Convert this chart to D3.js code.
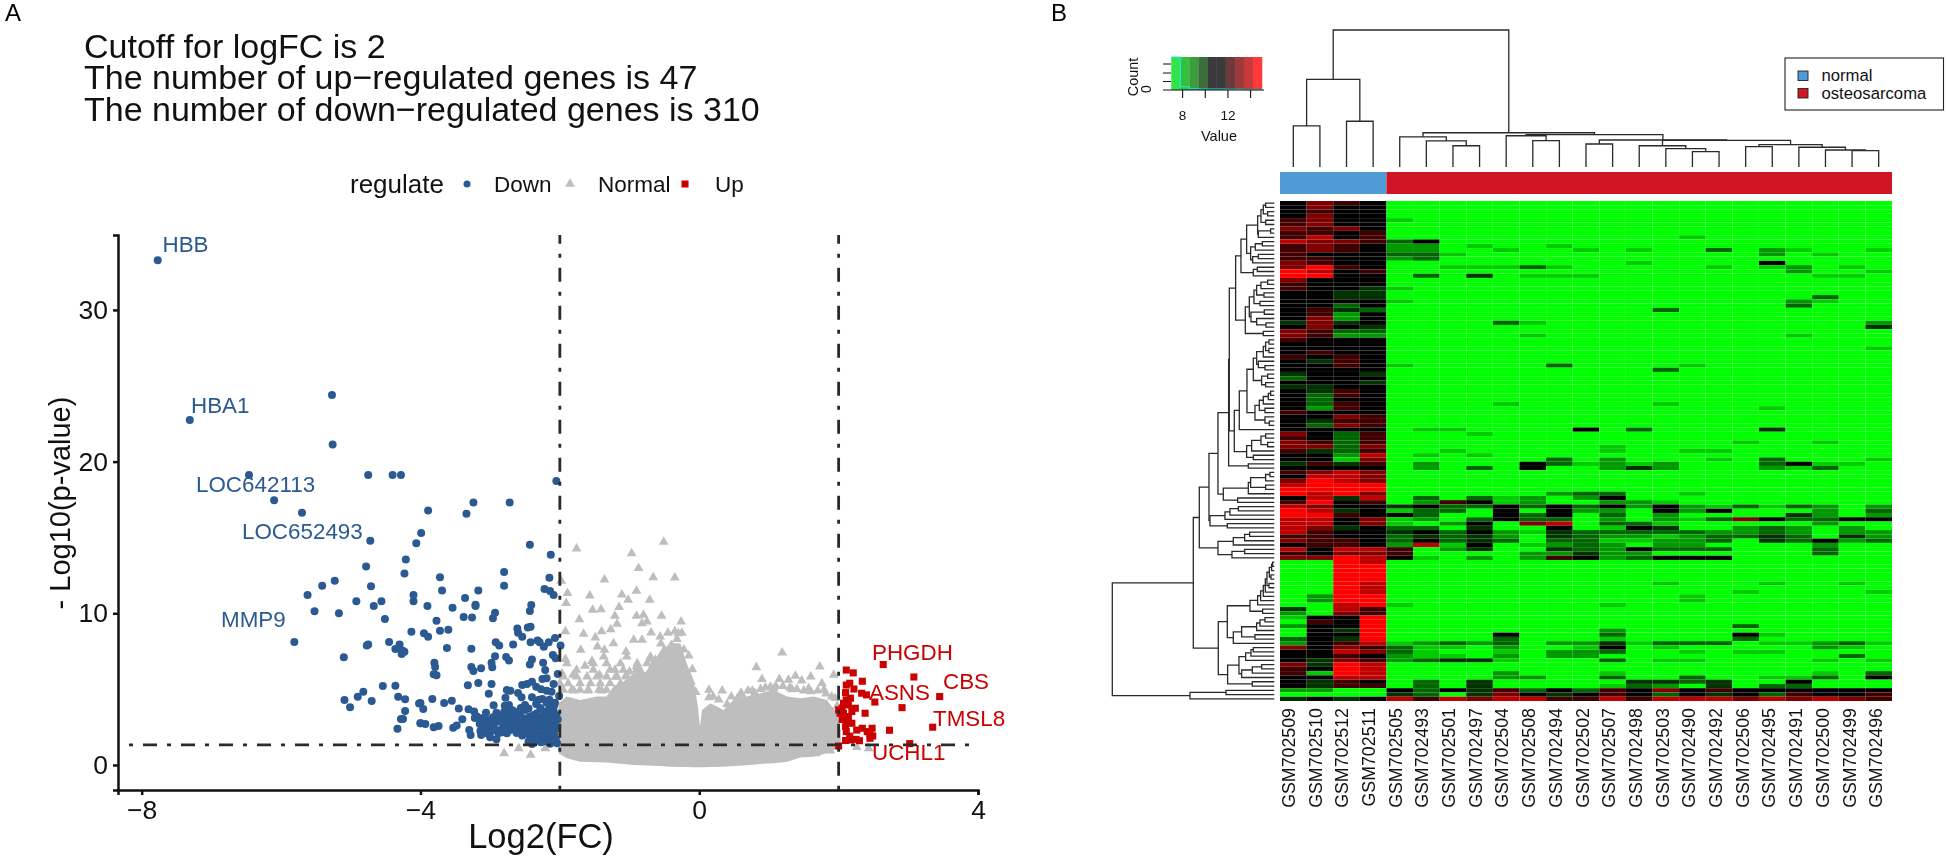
<!DOCTYPE html>
<html><head><meta charset="utf-8">
<script src="https://cdn.jsdelivr.net/npm/d3@7/dist/d3.min.js"></script>
<style>
html,body{margin:0;padding:0;background:#fff}
svg{display:block;filter:blur(0.45px)}
text{font-family:"Liberation Sans",Arial,sans-serif}
</style></head><body><svg id="c" width="1946" height="860"></svg>
<script>
// ---------- Panel A data ----------
const titleLines = ["Cutoff for logFC is 2","The number of up\u2212regulated genes is 47","The number of down\u2212regulated genes is 310"];
const xTicks = [-8,-4,0,4];
const yTicks = [0,10,20,30];
const logFCcut = 2, pCut = 1.32;
const downPoints = [[-7.77,33.28],[-7.31,22.74],[-5.27,24.39],[-5.26,21.13],[-6.46,19.11],[-4.75,19.11],[-4.40,19.11],[-4.28,19.11],[-2.05,18.72],[-6.10,17.46],[-5.70,16.63],[-3.89,16.78],[-3.34,16.56],[-3.24,17.31],[-2.72,17.31],[-4.72,14.78],[-3.99,15.29],[-4.06,14.61],[-4.21,13.55],[-2.43,14.52],[-2.13,13.86],[-4.78,13.09],[-4.23,12.63],[-3.72,12.37],[-2.80,12.72],[-2.15,12.34],[-5.23,12.15],
[-5.41,11.82],[-5.62,11.21],[-4.71,11.78],[-4.92,10.79],[-4.56,10.79],[-4.67,10.48],[-5.52,10.13],[-5.17,10.0],[-4.51,9.62],[-4.10,11.21],[-4.10,10.79],[-4.13,8.79],[-5.81,8.11],[-4.75,7.95],[-4.77,7.87],[-4.45,8.11],[-4.30,7.95],[-4.36,7.65],[-4.26,7.54],[-4.23,7.47],[-4.27,7.32],[-5.10,7.10],[-4.54,5.21],[-4.36,5.23],[-4.82,4.83],[-4.90,4.50],[-5.09,4.28],[-5.01,3.80],[-4.70,4.22],[-4.32,4.50],[-4.22,4.33],[-4.02,4.06],[-4.22,3.56],[-4.28,3.03],[-4.25,3.03],[-4.33,2.39],[-4.0,2.75],
[-2.80,11.82],[-3.69,11.51],[-3.17,11.51],[-3.36,11.01],[-2.22,11.6],[-2.14,11.47],[-2.09,11.2],[-3.21,10.57],[-3.21,10.48],[-3.90,10.48],[-3.54,10.37],[-2.41,10.55],[-2.43,10.15],[-2.93,10.04],[-2.96,9.67],[-3.38,9.75],[-3.26,9.73],[-3.77,9.51],[-3.60,8.92],[-3.72,8.85],[-3.95,8.68],[-3.89,8.46],[-2.61,8.99],[-2.60,8.72],[-2.54,8.46],[-2.46,9.07],[-2.42,9.12],[-2.07,8.37],[-2.42,8.09],[-2.32,8.2],[-2.29,8.09],[-2.16,8.09],[-2.23,7.8],[-2.92,8.09],[-2.87,7.87],[-2.67,7.95],[-3.62,7.71],[-3.27,7.67],[-1.99,7.87],[-2.10,7.25],[-2.06,7.03],[-2.93,7.16],[-2.77,7.12],[-2.73,6.88],[-2.40,6.96],[-2.43,6.63],[-2.98,6.74],[-2.97,6.44],[-2.24,6.74],[-2.21,6.26],[-3.80,6.74],[-3.79,6.46],[-3.81,5.98],[-3.77,5.91],[-3.27,6.46],[-3.24,6.2],[-3.13,6.37],[-2.03,6.0],[-3.17,5.4],[-3.32,5.25],[-2.98,5.34],[-3.02,4.70],[-2.76,4.94],[-2.71,4.9],[-2.78,4.44],[-2.54,5.27],[-2.47,5.34],[-2.40,5.49],[-2.34,5.16],[-2.25,5.67],[-2.19,5.71],[-2.27,4.99],[-2.09,5.34],[-2.19,4.9],[-2.12,4.83],[-2.60,4.75],[-2.55,4.46],[-2.40,4.46],[-2.01,4.55],
[-4.0,4.09],[-3.96,3.69],[-3.83,4.35],[-3.66,4.09],[-3.55,4.24],[-3.45,3.73],[-4.0,2.75],[-3.93,2.70],[-3.81,2.48],[-3.74,2.57],[-3.53,2.46],[-3.48,2.61],[-3.40,3.01],[-3.30,2.31],[-3.28,1.98],[-3.14,2.24],[-3.13,1.98],
[-3.31,3.67],[-3.23,3.52],[-3.19,3.19],[-3.12,3.08],[-3.06,3.45],[-3.04,2.97],[-2.95,3.93],[-2.91,3.45],[-2.98,2.75],[-2.90,2.85],[-2.86,2.31],[-3.0,1.82],[-2.91,1.69],[-2.88,2.09],[-2.75,3.73],[-2.71,3.51],[-2.76,3.19],[-2.67,3.4],[-2.59,3.51],[-2.50,3.62],[-2.45,3.73],[-2.71,2.64],[-2.62,2.97],[-2.55,2.53],[-2.47,3.08],[-2.34,4.02],[-2.33,3.41],[-2.19,4.11],[-2.21,3.52],[-2.18,3.29],[-2.09,3.62],[-2.05,3.29],[-2.43,2.75],[-2.33,2.85],[-2.26,2.53],[-2.14,2.75],[-2.07,2.85],[-2.50,2.09],[-2.40,2.31],[-2.31,2.09],[-2.21,2.2],[-2.12,2.09],[-2.04,2.42],[-2.45,1.54],[-2.38,1.76],[-2.19,1.54],[-2.09,1.76],[-2.04,1.43],[-2.40,1.38],[-2.71,2.31],[-2.64,2.64],[-2.81,2.53],[-2.59,2.19],[-2.76,2.09],[-2.47,2.42],[-2.35,2.31],[-2.26,1.87],[-2.14,1.65],[-2.16,2.31],[-2.43,3.19],[-2.71,2.97],[-2.81,2.97],[-3.10,2.53],[-3.02,2.42],[-2.95,2.53],
[-2.80,3.5],[-2.68,3.6],[-2.62,3.3],[-2.56,3.2],[-2.52,2.9],[-2.78,2.75],[-2.66,2.8],[-2.58,2.75],[-2.5,2.6],[-2.44,2.5],[-2.38,2.6],[-2.30,2.6],[-2.24,2.9],[-2.18,2.95],[-2.12,3.0],[-2.09,2.5],[-2.17,2.55],[-2.34,3.05],[-2.39,3.0],[-2.28,3.2],[-2.22,3.05],[-2.13,3.45],[-2.08,3.95],[-2.15,3.9],[-2.28,3.75],[-2.25,4.35],[-2.3,4.3],[-2.15,4.3],[-2.07,4.1],[-2.36,2.05],[-2.44,2.0],[-2.28,1.9],[-2.22,1.8],[-2.17,1.9],[-2.08,2.0],[-2.06,1.7],[-2.33,1.6],[-2.27,1.5],[-2.14,1.4],[-2.56,2.3],[-2.66,2.45],[-2.62,2.1],[-2.54,1.95],[-2.83,2.15],[-3.03,2.7],[-3.1,2.9],[-2.85,3.2],[-2.96,3.15],[-3.22,3.1],[-3.15,2.7],[-3.06,2.1],[-2.97,2.25],[-2.79,3.9],[-2.73,3.95],[-2.5,3.95],[-2.56,3.75],[-2.38,3.3],[-2.22,3.3],[-2.1,3.15],[-2.03,3.0]];
const upPoints = [[2.11,6.26],[2.21,6.07],[2.64,6.62],[3.08,5.80],[2.34,5.52],[2.16,5.39],[2.11,5.27],[2.22,5.01],[2.10,4.77],[2.33,4.73],[2.40,4.62],[3.45,4.51],[2.52,4.15],[2.91,3.78],[2.11,4.29],[2.14,3.96],[2.05,3.74],[2.24,3.74],[2.19,3.52],[2.02,3.41],[2.07,3.41],[2.38,3.41],[2.19,2.75],[2.12,2.75],[2.10,2.53],[3.35,2.49],[2.73,2.29],[2.11,2.2],[2.34,2.42],[2.48,2.42],[2.41,2.2],[2.45,1.98],[2.49,1.91],[2.45,1.76],[2.25,1.69],[2.17,1.65],[2.10,1.61],[3.02,1.41],[2.0,1.25],[2.0,3.63],[2.07,4.07],[2.17,4.4],[2.14,3.19],[2.26,2.3],[2.05,3.0],[2.16,1.9],[2.3,1.6]];
const normalPoints = [[-.51,14.70],[-1.76,14.26],[-.97,13.95],[-.87,12.97],[-.66,12.37],[-.35,12.35],[-1.36,12.22],[-1.98,12.13],[-.90,11.47],[-1.11,11.23],[-1.89,11.32],[-1.57,11.16],[-1.02,10.88],[-.71,10.88],[-1.91,10.66],[-1.15,10.40],[-1.53,10.22],[-1.41,10.26],[-1.21,9.82],[-.90,9.82],[-.80,9.89],[-.54,9.82],[-1.72,9.60],[-.26,9.45],[-1.18,9.30],[-.82,9.34],[-.75,9.45],[-1.92,8.81],[-1.40,8.81],[-1.27,8.94],[-1.66,8.64],[-.30,8.68],[-.69,8.72],[-1.49,8.40],[-1.23,8.02],[-.94,8.24],[-.82,8.24],[-.56,8.46],[-1.46,7.80],[-1.70,7.58],[-1.36,7.58],[-1.05,7.47],[-1.92,6.97],[-1.37,7.14],[-1.64,6.53],[-1.54,6.84],[-1.21,6.26],[-1.97,6.04],[-1.43,5.93],[-1.81,5.93],[-1.0,6.15],[-.9,6.26],[-.75,6.70],[-.63,6.92],[1.19,7.41],[.82,6.44],[1.73,6.48],[1.93,5.93],[.9,5.65],[1.38,5.87],[1.60,5.82],[1.15,5.65],[1.28,5.61],[1.47,5.56],[1.76,5.38],[.14,4.95],[.33,4.9],[.14,4.46],[1.07,5.05],[1.33,4.99],[1.57,5.05],[1.79,4.95],[.8,4.73],[.61,4.62],[-2.8,.77],[-2.59,1.1],[-2.42,.66],[-2.21,1.1],[2.26,1.17],[2.43,1.1],[1.88,.95],[1.67,.77],
[-1.8,4.9],[-1.6,4.9],[-1.4,4.9],[-1.2,5.8],[-1.05,5.9],[-.9,6.5],[-.7,7],[-.55,8],[-.45,8.7],[-.35,8.8],[-.25,8.7],[-.15,7.2],[-.1,6.3],[.2,4.5],[.4,4],[.55,4.4],[.7,4.9],[.95,5.1],[1.2,5.2],[1.4,5],[1.7,4.9],[1.95,4.4],
[-1.04,7.14],[-.7,7.14],[-.56,7.14],[-.46,7.14],[-1.9,6.7],[-1.52,6.7],[-1.33,6.7],[-1.13,6.7],[-.89,6.7],[-.65,6.7],[-1.76,6.26],[-1.52,6.26],[-1.28,6.26],[-1.09,6.26],[-.85,6.26],[-.7,6.26],[-1.95,5.82],[-1.76,5.82],[-1.61,5.82],[-1.47,5.82],[-1.33,5.82],[-1.18,5.82],[-1.04,5.82],[-.89,5.82],[-.75,5.82],[-2,5.38],[-1.88,5.38],[-1.71,5.38],[-1.56,5.38],[-1.42,5.38],[-1.28,5.38],[-1.13,5.38],[-1.95,4.95],[-1.83,4.95],[-1.71,4.95],[-1.59,4.95],[-1.44,4.95],[-1.33,4.95],[-1.21,4.95],
[.28,4.3],[.46,4.5],[.6,4.75],[.76,4.9],[.88,5],[1.02,5.15],[1.1,5.2],[1.3,5.1],[1.5,4.9],[1.6,4.85],[1.82,4.7],[1.9,4.5],[1.98,3.9],[-.32,8.3],[-.4,7.9],[-.22,7.6],[-.5,7.6],[-.12,5.5],[-.05,4.8]];
// envelope of the solid grey mass of overlapping "Normal" genes
const massX = [-2.02,-1.90,-1.71,-1.47,-1.33,-1.23,-1.09,-.94,-.75,-.56,-.42,-.27,-.18,-.08,-.02,.01,.04,.16,.35,.49,.68,.88,1.07,1.26,1.45,1.64,1.83,1.98,2.03];
const massTop = [4.07,4.51,4.29,4.51,4.51,5.17,5.49,6.04,6.15,7.36,8.02,8.02,6.70,5.60,3.85,2.53,3.63,4.07,3.63,4.29,4.51,4.73,4.95,4.51,4.40,4.51,4.29,3.41,2.31];
const massBottom = [.77,.44,.22,.18,.16,.11,.07,0,-.04,-.06,-.11,-.13,-.13,-.15,-.15,-.15,-.15,-.13,-.11,-.06,-.02,.07,.11,.22,.5,.55,.77,1.1,1.43];
const legendLabels = ["Down","Normal","Up"];
const blueLabels = ["HBB","HBA1","LOC642113","LOC652493","MMP9"];
const redLabels = ["PHGDH","CBS","ASNS","TMSL8","UCHL1"];
// ---------- Panel B data ----------
const samples = ["GSM702509","GSM702510","GSM702512","GSM702511","GSM702505","GSM702493","GSM702501","GSM702497","GSM702504","GSM702508","GSM702494","GSM702502","GSM702507","GSM702498","GSM702503","GSM702490","GSM702492","GSM702506","GSM702495","GSM702491","GSM702500","GSM702499","GSM702496"];
const groups = ["normal","osteosarcoma"];
const groupSizes = [4,19];
// level per row for the four normal samples (0 green .. 5 black .. 9 red)
const normalCells = ["5765","5755","5655","5755","6755","6755","7675","6656","6856","8776","6765","6765","6555","6655","7655","7965","9856","9955","7555","6555","6554","5544","5544","5555","5535","5643","5625","5725","4745","5754","7633","7622","6555","5555","5555","5655","6565","5465","5565","5555","4554","3555","5554","4455","5465","5365","5355","5365","5265","6555","5576","5466","5376","5555","7536","6536","7636","7737","6436","5528","5517","4646","5555","6787","5887","7987","8999","9999","9897","5848","6956","8755","9845","9965","8857","8857","8745","8655","6655","7665","5665","8588","6577","7798","0098","0099","0099","0099","0099","0098","0098","0098","0299","0299","0089","4086","2076","1559","0659","2559","0549","0559","3549","2568","7576","5587","5565","5476","7498","6598","6198","5588","5465","5466","2200","0000","4545"];
// tumour samples are almost all bright green: [row, col, level, col, level, ...]
const tumourCells = [[4,4,1],[8,15,1],[9,4,3,5,5],[10,4,2,5,2,7,1,10,1],[11,4,2,5,2,8,1,11,1,13,1,16,3,18,2,19,1,22,1],[12,4,3,5,3,6,1,18,2,20,1],[13,4,2,5,3],[14,13,1,18,5],[15,6,1,7,1,8,1,9,3,10,1,16,1,18,1,19,2,21,1],[16,19,2,22,1],[17,5,3,7,4,9,1,10,1,11,1,20,1,21,1],[20,4,1],[22,20,3],[23,4,1,19,2,20,1],[24,19,3],[25,14,3],[28,8,3,9,1,22,2],[29,22,4],[31,9,1,19,1],[34,22,1],[38,4,1,10,3,15,1],[39,14,3],[47,8,1,14,1],[48,18,1],[53,5,1,6,1,11,5,13,3,18,4],[54,7,1],[56,17,1,20,1],[57,12,1],[58,6,1,12,1,15,1,16,1],[59,5,1,7,1],[60,10,3,12,2,16,1,18,3,22,1],[61,5,2,9,5,10,3,11,1,12,2,13,1,14,2,18,3,19,5,20,1,21,1],[62,5,2,7,3,9,5,12,2,13,4,14,2,18,2,19,1,20,3],[68,10,2,11,3,12,3,15,1],[69,5,3,7,3,8,1,9,2,11,2,12,5],[70,5,2,6,6,7,5,8,1,9,2,12,2,13,2,14,1],[71,4,4,5,5,6,3,7,3,8,5,9,3,10,5,11,3,12,5,13,2,14,5,15,2,16,1,17,3,18,1,19,3,20,2,22,2],[72,4,1,5,3,6,3,8,5,10,5,11,2,12,2,14,5,15,2,16,5,20,2,22,3],[73,4,5,5,3,8,5,9,3,10,5,12,3,14,2,19,4,20,2,22,2],[74,4,1,5,2,7,3,8,5,9,3,10,3,12,2,14,2,15,1,16,3,17,7,18,5,19,3,20,3,21,5,22,5],[75,4,1,6,2,7,5,9,7,10,8,12,3,13,3,14,1,20,2],[76,4,3,5,3,7,4,10,5,12,1,13,5,14,4,17,2,18,3,19,2,21,2],[77,4,4,5,5,6,3,7,5,8,2,9,1,10,4,11,3,12,3,13,3,14,3,15,3,16,2,17,2,18,3,19,2,21,2,22,2],[78,4,3,5,4,6,3,7,4,8,2,10,4,11,3,12,2,13,2,14,1,15,2,16,3,17,3,18,4,19,3,21,4,22,2],[79,4,3,5,5,6,3,7,4,8,3,10,3,11,3,12,1,13,1,14,2,15,2,16,3,18,4,19,3,20,5,21,2,22,3],[80,4,2,5,8,6,1,7,5,9,1,10,2,11,3,12,2,14,2,15,2,20,2],[81,4,6,6,2,7,4,10,4,11,3,12,2,13,5,14,3,15,3,16,3,20,3],[82,4,6,9,2,10,2,11,4,12,2,13,2,20,3],[83,4,5,5,1,7,2,9,2,10,6,11,5,12,2,13,3,14,5,15,5,16,5],[89,14,1,18,1,21,1],[91,17,1,22,1],[92,15,1],[93,15,1],[94,4,1,12,1],[99,17,3],[100,12,2],[101,8,5,12,3,17,5,18,1],[102,8,3,12,1,17,3],[103,4,1,5,2,6,3,7,2,8,3,10,2,11,2,12,4,13,1,14,3,15,3,16,3,18,1,19,1,20,2,21,3,22,1],[104,4,3,5,1,6,1,8,2,11,1,12,5,14,1,20,2,21,1],[105,4,3,5,1,8,1,10,2,11,2,12,3,15,1,17,1,18,1],[106,4,2,5,1,6,1,8,2,10,2,11,2,21,3],[107,4,2,5,3,6,4,7,4,8,1,12,3,14,1,15,1,20,1,22,1],[110,8,2,12,1,20,1,22,3],[111,8,2,9,2,12,3,15,3,18,1,19,1,20,3,22,5],[112,5,3,7,4,13,4,14,4,15,3,16,4,19,5],[113,5,3,7,4,12,1,13,3,14,2,16,4,18,3,19,3],[114,4,5,5,3,6,5,7,4,8,6,9,3,10,5,11,3,12,6,13,5,14,7,15,5,16,6,17,5,18,5,19,5,20,5,21,5,22,5],[115,4,4,5,3,7,4,8,7,9,5,10,4,11,5,12,6,13,5,14,3,15,5,16,4,17,5,18,3,19,6,20,5,21,5,22,6],[116,4,8,5,6,6,8,7,7,8,8,9,8,10,6,11,6,12,8,13,6,14,8,15,8,16,8,17,7,18,8,19,7,20,8,21,7,22,6]];
// dendrograms: [height, child, child]; 0 is a leaf, leaves run in display order
const colTree = [100,[64,[30,0,0],[33.4,0,0]],[25,[22,0,[19,0,[15.5,0,0]]],[23.6,[22.8,0,[19.2,0,0]],[19.7,[16.8,0,0],[19.5,[15.5,0,[13.4,0,[11.2,0,0]]],[16.3,[14.8,0,0],[14.4,0,[12.4,0,[11.9,0,0]]]]]]]]];
const rowTree = [486,
 [243,
  [225,
   [196,
    [169,
     [137,
      [135,
       [116,
        [100,
         [83,
          [50,[40,[33,[26,0,0],[20,0,0]],[26,0,0]],[48,[11,0,0],0]],
          [71,[57,[36,0,0],0],[65,[48,0,0],0]]],
         [63,[51,0,0],0]],
        [87,
         [75,
          [61,[53,[40,[20,0,0],0],[31,0,0]],[43,0,0]],
          [70,[30,0,0],[53,0,[25,0,0]]]],
         [33,0,0]]],
       [120,
        [105,
         [82,
          [63,
           [53,[33,[26,[16,0,0],[16,0,0]],0],[48,0,[28,0,0]]],
           [38,[20,0,0],[26,0,0]]],
          [58,[45,[33,[18,[11,0,0],0],0],[28,0,0]],[28,0,[15,0,0]]]],
         0],
        [83,[68,[40,[26,0,0],[20,0,0]],0],[63,0,0]]]],
      [78,0,0]],
     [153,
      [78,[71,[26,[13,0,0],0],[26,0,0]],0],
      [110,0,0]]],
    [193,
     [148,[133,[108,0,0],0],0],
     [141,0,0]]],
   [169,
    [123,[89,[74,0,0],0],0],
    [127,[89,0,0],0]]],
  [168,
   [141,
    [73,[50,[41,[33,[27,[22,[15,[8,[5,0,0],0],[10,0,0]],[16,0,0]],0],0],0],0],[35,0,0]],
    [123,[98,[53,[43,[28,0,0],0],0],[58,0,0]],0]],
   [140,
    [106,[86,[70,[63,0,0],0],0],[98,[66,[38,0,0],0],0]],
    [66,0,0]]]],
 [253,[145,0,0],0]];
const keyTicks = [8,10,12,14];
const keyColors = ["#33e34a","#35c03c","#3a9c3c","#3c6e3c","#3a3a3a","#3a3a3a","#6c3a3a","#9a3a3a","#c83a3a","#ff3a3a"];
const keyEdges = [7,7.8,8.6,9.4,10.2,11,11.8,12.6,13.4,14.2,15];
const keyCounts = [100,10,4,3,3,3,2,2,1,1];

// ---------- Layout ----------
const svg = d3.select("#c");
const ink="#111";
// Panel labels
svg.append("text").attr("x",5).attr("y",21).attr("font-size",24).text("A");
svg.append("text").attr("x",1051).attr("y",21).attr("font-size",24).text("B");
// Titles
svg.selectAll(".t").data(titleLines).join("text").attr("x",84).attr("y",(d,i)=>58+i*31.4).attr("font-size",34).attr("fill",ink).text(d=>d);
// Scales
const x = d3.scaleLinear([-8.34,4],[118,978]);
const y = d3.scaleLinear([-1.65,34.94],[790,235]);
const A = svg.append("g");
A.append("path").datum(massX.map((v,i)=>i))
 .attr("fill","#bebebe")
 .attr("d",d3.area().x(i=>x(massX[i])).y0(i=>y(massBottom[i])).y1(i=>y(massTop[i])));
const tri = d3.symbol().type(d3.symbolTriangle).size(42);
const sq = d3.symbol().type(d3.symbolSquare).size(50);
A.selectAll(".n").data(normalPoints).join("path").attr("d",tri).attr("fill","#bebebe").attr("transform",d=>`translate(${x(d[0])},${y(d[1])})`);
A.selectAll(".dn").data(downPoints).join("circle").attr("cx",d=>x(d[0])).attr("cy",d=>y(d[1])).attr("r",4).attr("fill","#2b5a92");
A.selectAll(".up").data(upPoints).join("path").attr("d",sq).attr("fill","#cb0000").attr("transform",d=>`translate(${x(d[0])},${y(d[1])})`);
// cut-off lines
const cut = {stroke:"#2a2a2a","stroke-width":2.8,"stroke-dasharray":"14 10 4 10"};
function line(x1,y1,x2,y2,off){const l=A.append("line").attr("x1",x1).attr("y1",y1).attr("x2",x2).attr("y2",y2).attr("stroke-dashoffset",off);for(const k in cut)l.attr(k,cut[k]);}
line(x(-logFCcut),235,x(-logFCcut),790,5.3);
line(x(logFCcut),235,x(logFCcut),790,5.3);
line(118,y(pCut),978,y(pCut),13);
// axes
const xAxis = A.append("g").attr("transform","translate(0,790)").call(d3.axisBottom(x).tickValues(xTicks).tickSizeOuter(0).tickSize(5).tickPadding(5));
const yAxis = A.append("g").attr("transform","translate(118,0)").call(d3.axisLeft(y).tickValues(yTicks).tickSizeOuter(0).tickSize(5).tickPadding(5));
[xAxis,yAxis].forEach(g=>{g.selectAll("path,line").attr("stroke",ink).attr("stroke-width",2.5);g.selectAll("text").attr("font-size",26.5).attr("fill",ink).attr("font-family","Liberation Sans");});
A.append("text").attr("x",541).attr("y",848).attr("text-anchor","middle").attr("font-size",34.5).attr("fill",ink).text("Log2(FC)");
A.append("text").attr("transform","translate(70,503) rotate(-90)").attr("text-anchor","middle").attr("font-size",29).attr("fill",ink).text("- Log10(p-value)");
// legend
A.append("text").attr("x",350).attr("y",193).attr("font-size",26).attr("fill",ink).text("regulate");
const legSym=[467,570,685], legTxt=[494,598,715];
A.append("circle").attr("cx",legSym[0]).attr("cy",184).attr("r",3.5).attr("fill","#2b5a92");
A.append("path").attr("d",tri).attr("fill","#bebebe").attr("transform",`translate(${legSym[1]},184)`);
A.append("path").attr("d",sq).attr("fill","#cb0000").attr("transform",`translate(${legSym[2]},184)`);
A.selectAll(".lg").data(legendLabels).join("text").attr("x",(d,i)=>legTxt[i]).attr("y",192).attr("font-size",22.5).attr("fill",ink).text(d=>d);
// gene labels
const blueLabelPos=[[162.5,252],[191,413],[196,492],[242,539],[221,627]];
const redLabelPos=[[872,660],[943,689],[869,700],[933,726],[872,760]];
A.selectAll(".bl").data(blueLabels).join("text").attr("x",(d,i)=>blueLabelPos[i][0]).attr("y",(d,i)=>blueLabelPos[i][1]).attr("font-size",22.4).attr("fill","#2b5a92").text(d=>d);
A.selectAll(".rl").data(redLabels).join("text").attr("x",(d,i)=>redLabelPos[i][0]).attr("y",(d,i)=>redLabelPos[i][1]).attr("font-size",22.4).attr("fill","#cb0000").text(d=>d);

// ---------- Panel B ----------
const B = svg.append("g");
const colX = d3.scaleBand(d3.range(samples.length),[1280,1892]);
const rowY = d3.scaleBand(d3.range(normalCells.length),[201,701]);
const labelX = d3.scalePoint(samples,[1288.5,1876]);
const heat = d3.scaleLinear([0,5,9],["#00ff00","#000000","#ff0000"]);
const cells = [];
normalCells.forEach((s,r)=>{ for(let c=0;c<samples.length;c++) cells.push({r,c,v:c<4?+s[c]:0}); });
tumourCells.forEach(t=>{ for(let i=1;i<t.length;i+=2) cells[t[0]*samples.length+t[i]].v=t[i+1]; });
B.selectAll(".cell").data(cells).join("rect").attr("x",d=>colX(d.c)).attr("y",d=>rowY(d.r))
 .attr("width",colX.bandwidth()).attr("height",rowY.bandwidth()).attr("fill",d=>heat(d.v))
 .attr("stroke","#fff").attr("stroke-opacity",.025).attr("stroke-width",.6);
// annotation bar
const gCols=["#4f9bd6","#cf1525"];
let run=0;
groupSizes.forEach((n,g)=>{ B.append("rect").attr("x",colX(run)).attr("y",172).attr("width",colX.bandwidth()*n).attr("height",22).attr("fill",gCols[g]); run+=n; });
// sample labels
B.selectAll(".s").data(samples).join("text")
 .attr("transform",d=>`translate(${labelX(d)+6.3},708) rotate(-90)`)
 .attr("text-anchor","end").attr("font-size",17.8).attr("fill",ink).text(d=>d);
// dendrograms
function tree(t){ return d3.hierarchy(t,d=>Array.isArray(d)?d.slice(1):null); }
const hOf=d=>Array.isArray(d.data)?d.data[0]:0;
const colH = d3.scaleLinear([0,100],[167,30]);
const ct = tree(colTree); ct.leaves().forEach((l,i)=>l.pos=colX(i)+colX.bandwidth()/2);
ct.eachAfter(n=>{ if(n.children) n.pos=(n.children[0].pos+n.children[1].pos)/2; });
const dg=B.append("g").attr("fill","none").attr("stroke","#2a2a2a").attr("stroke-width",1.3);
ct.descendants().filter(n=>n.children).forEach(n=>{
  const [a,b]=n.children, h=colH(hOf(n));
  dg.append("path").attr("d",`M${a.pos},${colH(hOf(a))}V${h}H${b.pos}V${colH(hOf(b))}`);
});
const rowH = d3.scaleLinear([0,486],[1274.3,1112.3]);
const rt = tree(rowTree); rt.leaves().forEach((l,i)=>l.pos=rowY(i)+rowY.bandwidth()/2);
rt.eachAfter(n=>{ if(n.children) n.pos=(n.children[0].pos+n.children[1].pos)/2; });
rt.descendants().filter(n=>n.children).forEach(n=>{
  const [a,b]=n.children, h=rowH(hOf(n));
  dg.append("path").attr("d",`M${rowH(hOf(a))},${a.pos}H${h}V${b.pos}H${rowH(hOf(b))}`);
});
// colour key
const kx = d3.scaleLinear([8,14],[1182.6,1250.6]);
const ky = d3.scaleLinear([0,100],[90,57]);
const K=B.append("g");
keyColors.forEach((c,i)=>K.append("rect").attr("x",kx(keyEdges[i])).attr("width",kx(keyEdges[i+1])-kx(keyEdges[i])+.3).attr("y",57).attr("height",33).attr("fill",c));
K.append("path").attr("fill","none").attr("stroke","#22e6e6").attr("stroke-width",1.1)
 .attr("d",d3.line().curve(d3.curveStepAfter).x((d,i)=>kx(keyEdges[i])).y(d=>ky(d))(keyCounts.concat([1])));
K.append("path").attr("fill","none").attr("stroke",ink).attr("stroke-width",1.1).attr("d","M1163,64H1171M1163,73H1171M1163,81.5H1171M1163,90H1264");
K.selectAll(".kt").data(keyTicks).join("line").attr("x1",d=>kx(d)).attr("x2",d=>kx(d)).attr("y1",90).attr("y2",98).attr("stroke",ink).attr("stroke-width",1.1);
K.selectAll(".kl").data(keyTicks.filter(d=>d==8||d==12)).join("text").attr("x",d=>kx(d)).attr("y",120).attr("text-anchor","middle").attr("font-size",13.5).attr("fill",ink).text(d=>d);
K.append("text").attr("x",1219).attr("y",141).attr("text-anchor","middle").attr("font-size",14.5).attr("fill",ink).text("Value");
K.append("text").attr("transform","translate(1138,77) rotate(-90)").attr("text-anchor","middle").attr("font-size",14.5).attr("fill",ink).text("Count");
K.append("text").attr("transform","translate(1151,89) rotate(-90)").attr("text-anchor","middle").attr("font-size",14).attr("fill",ink).text("0");
// group legend
B.append("rect").attr("x",1785).attr("y",58).attr("width",158.5).attr("height",52).attr("fill","#fff").attr("stroke","#222").attr("stroke-width",1.1);
groups.forEach((g,i)=>{
  B.append("rect").attr("x",1798).attr("y",71+i*17.5).attr("width",10).attr("height",9.5).attr("fill",gCols[i]).attr("stroke","#222").attr("stroke-width",.9);
  B.append("text").attr("x",1821.5).attr("y",81+i*17.5).attr("font-size",16.7).attr("fill",ink).text(g);
});
</script></body></html>
